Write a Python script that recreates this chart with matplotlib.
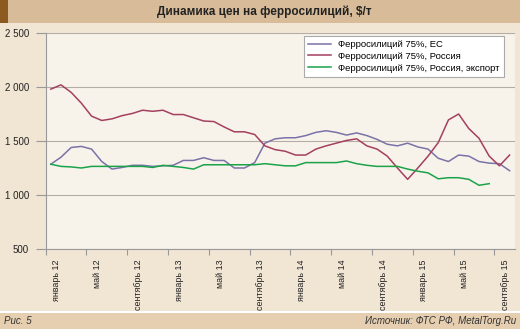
import numpy as np
import matplotlib.pyplot as plt

plt.rcParams['font.family'] = ['Liberation Sans', 'DejaVu Sans']

# Месяцы: январь 2012 - октябрь 2015
month_names = ['январь', 'май', 'сентябрь']
tick_labels = [f'{month_names[k % 3]} {12 + k // 3}' for k in range(12)]

eu = [1285, 1350, 1440, 1450, 1425, 1310, 1240, 1255, 1275, 1275, 1265, 1270,
      1275, 1320, 1320, 1345, 1320, 1320, 1250, 1250, 1300, 1480, 1520, 1530,
      1530, 1550, 1580, 1595, 1580, 1555, 1575, 1550, 1515, 1470, 1455, 1480,
      1445, 1425, 1340, 1310, 1370, 1360, 1310, 1295, 1290, 1225]
russia = [1980, 2020, 1950, 1850, 1730, 1690, 1705, 1735, 1755, 1785, 1775, 1785,
          1745, 1745, 1715, 1685, 1680, 1630, 1585, 1585, 1560, 1455, 1420, 1405,
          1370, 1370, 1425, 1455, 1480, 1505, 1520, 1455, 1425, 1360, 1250, 1145,
          1250, 1360, 1485, 1695, 1750, 1615, 1525, 1360, 1270, 1370]
export = [1285, 1265, 1260, 1250, 1265, 1265, 1265, 1265, 1265, 1265, 1255, 1275,
          1265, 1255, 1240, 1280, 1280, 1280, 1280, 1280, 1280, 1290, 1280, 1270,
          1270, 1300, 1300, 1300, 1300, 1315, 1290, 1275, 1265, 1265, 1265, 1240,
          1220, 1205, 1150, 1160, 1160, 1145, 1090, 1105]

W, H = 520, 329
fig = plt.figure(figsize=(W / 100, H / 100), dpi=100)
fig.patch.set_facecolor('#f1e5d4')

# полосы заголовка и подвала
fig.patches.append(plt.Rectangle((0, 1 - 22.5 / H), 1, 22.5 / H, transform=fig.transFigure,
                                 facecolor='#d8bb98', edgecolor='none', zorder=-5))
fig.patches.append(plt.Rectangle((0, 1 - 22.5 / H), 8 / W, 22.5 / H, transform=fig.transFigure,
                                 facecolor='#8d5a1f', edgecolor='none', zorder=-5))
fig.patches.append(plt.Rectangle((0, 0), 1, 16.5 / H, transform=fig.transFigure,
                                 facecolor='#e6cfb1', edgecolor='none', zorder=-5))
fig.patches.append(plt.Rectangle((0, 16.5 / H), 1, 2 / H, transform=fig.transFigure,
                                 facecolor='white', edgecolor='none', zorder=-5))

fig.text(264 / W, 1 - 11.5 / H, 'Динамика цен на ферросилиций, $/т', ha='center', va='center',
         fontsize=8.5, fontweight='bold', color='#222222')
fig.text(4 / W, 8.5 / H, 'Рис. 5', ha='left', va='center', fontsize=7, style='italic', color='#333333')
fig.text(516 / W, 8.5 / H, 'Источник: ФТС РФ, MetalTorg.Ru', ha='right', va='center',
         fontsize=7, style='italic', color='#333333')

ax = fig.add_axes([45.7 / W, (H - 249) / H, 469 / W, 216 / H])
ax.set_facecolor('#f8f3ea')

x = np.arange(len(eu))
ax.plot(x, eu, color='#7a72a8', lw=1.1, label='Ферросилиций 75%, ЕС')
ax.plot(x, russia, color='#a3405f', lw=1.1, label='Ферросилиций 75%, Россия')
ax.plot(np.arange(len(export)), export, color='#1aa34a', lw=1.1,
        label='Ферросилиций 75%, Россия, экспорт')

ax.set_xlim(-0.5, len(eu) - 0.5)
ax.set_ylim(500, 2500)
ax.set_yticks([500, 1000, 1500, 2000, 2500])
ax.set_yticklabels(['500', '1 000', '1 500', '2 000', '2 500'])
ax.yaxis.grid(True, color='#b5ada5', lw=0.8)
ax.set_axisbelow(True)

major = np.arange(12) * 4 - 0.5
ax.set_xticks(major)
ax.set_xticklabels([])
ax.set_xticks(major + 1.1, minor=True)
ax.set_xticklabels(tick_labels, minor=True, rotation=90, va='top', ha='center')
ax.tick_params(axis='x', which='major', direction='out', length=4, color='#999999')
ax.tick_params(axis='x', which='minor', length=0, pad=7.5, labelsize=6.4, colors='#222222')
ax.tick_params(axis='y', direction='out', length=7, color='#999999', labelsize=7,
               labelcolor='#222222', pad=5)

for s in ['top', 'right']:
    ax.spines[s].set_visible(False)
for s in ['left', 'bottom']:
    ax.spines[s].set_color('#999999')
    ax.spines[s].set_linewidth(0.8)

leg = ax.legend(loc='upper right', bbox_to_anchor=(504 / W, 1 - 35.7 / H),
                bbox_transform=fig.transFigure, borderaxespad=0, fontsize=6.8,
                frameon=True, fancybox=False, framealpha=1, edgecolor='#aaaaaa',
                handlelength=2.4, handletextpad=0.8, labelspacing=0.3, borderpad=0.45)
leg.get_frame().set_linewidth(0.8)

fig.savefig('out.png', dpi=100, facecolor=fig.get_facecolor())
